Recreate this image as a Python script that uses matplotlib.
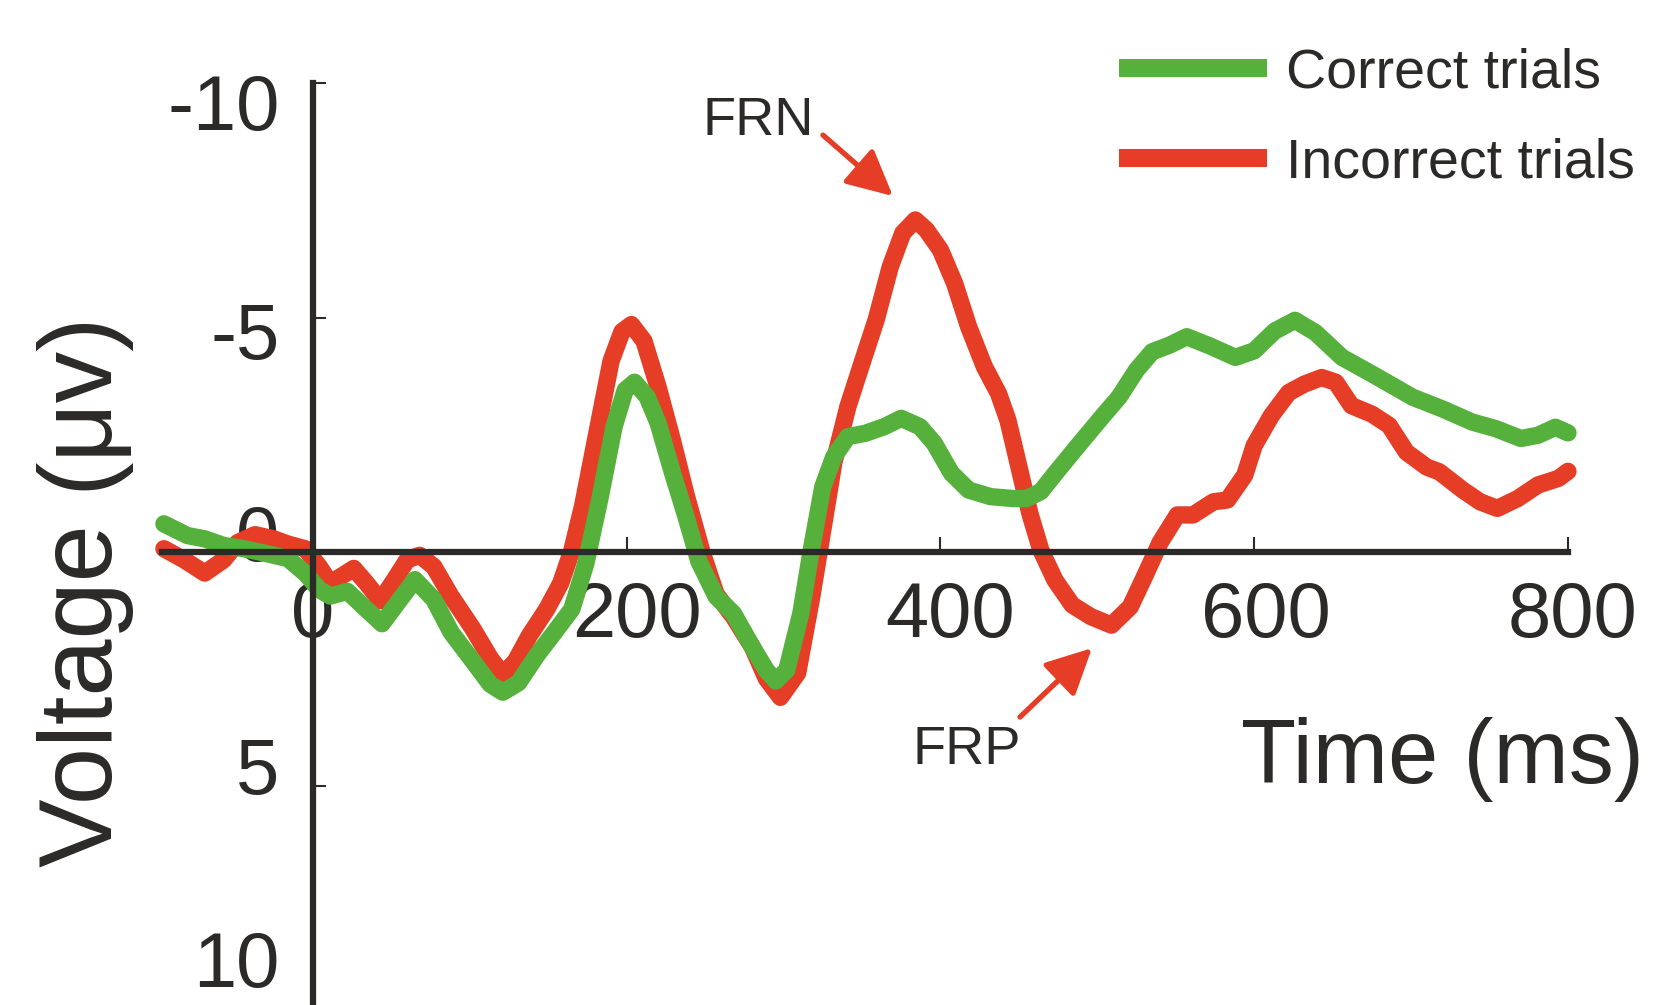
import matplotlib
matplotlib.use("Agg")
import matplotlib.pyplot as plt
from matplotlib.transforms import ScaledTranslation

# ERP waveforms (time in ms, voltage in uV, negative up)
time_incorrect = [-95, -82, -69, -57, -48, -37, -25, -16, -5, 4, 11, 18, 26, 34, 43, 52, 60, 68, 77, 88,
                  102, 113, 121, 129, 138, 149, 158, 165, 172, 181, 190, 197, 203, 211, 220, 229, 238, 248,
                  257, 268, 280, 289, 298, 309, 318, 325, 332, 341, 350, 359, 368, 376, 384, 391, 400, 409,
                  418, 428, 437, 443, 450, 457, 464, 473, 484, 496, 509, 521, 530, 540, 551, 561, 574, 583,
                  594, 600, 611, 622, 632, 643, 652, 662, 675, 686, 697, 710, 718, 733, 744, 755, 768, 781,
                  794, 800]
volt_incorrect = [-0.07, 0.17, 0.45, 0.17, -0.2, -0.37, -0.28, -0.17, -0.07, 0.31, 0.66, 0.52, 0.35, 0.66,
                  1.04, 0.59, 0.17, 0.07, 0.31, 0.94, 1.64, 2.26, 2.61, 2.33, 1.78, 1.22, 0.66, -0.03, -1.0,
                  -2.54, -4.07, -4.7, -4.85, -4.5, -3.52, -2.4, -1.2, 0.0, 0.9, 1.38, 2.02, 2.7, 3.1, 2.58,
                  0.95, -0.47, -1.9, -3.1, -4.03, -4.95, -6.08, -6.8, -7.08, -6.87, -6.44, -5.73, -4.8, -3.95,
                  -3.38, -2.81, -1.82, -0.82, -0.04, 0.6, 1.13, 1.38, 1.56, 1.17, 0.53, -0.2, -0.79, -0.79,
                  -1.07, -1.11, -1.64, -2.27, -2.91, -3.4, -3.58, -3.72, -3.62, -3.12, -2.94, -2.7, -2.13,
                  -1.81, -1.71, -1.32, -1.07, -0.93, -1.14, -1.43, -1.57, -1.72]

time_correct = [-95, -80, -69, -57, -44, -30, -16, -5, 4, 11, 22, 34, 44, 54, 65, 77, 88, 102, 113, 121,
                131, 143, 154, 165, 174, 183, 192, 199, 205, 213, 220, 229, 238, 246, 257, 268, 280, 289,
                295, 302, 311, 318, 325, 332, 341, 352, 364, 375, 387, 396, 407, 418, 432, 446, 455, 464,
                475, 489, 503, 514, 525, 535, 546, 557, 572, 588, 600, 613, 626, 639, 656, 677, 701, 720,
                739, 754, 770, 781, 792, 800]
volt_correct = [-0.6, -0.35, -0.28, -0.14, -0.07, 0.03, 0.14, 0.45, 0.8, 0.94, 0.84, 1.22, 1.53, 1.08, 0.59,
                1.01, 1.71, 2.33, 2.82, 2.99, 2.79, 2.19, 1.71, 1.22, 0.24, -1.15, -2.68, -3.45, -3.62, -3.31,
                -2.75, -1.71, -0.73, 0.2, 0.95, 1.31, 2.02, 2.52, 2.75, 2.52, 1.31, -0.11, -1.39, -2.03, -2.46,
                -2.53, -2.67, -2.85, -2.67, -2.32, -1.68, -1.32, -1.18, -1.14, -1.14, -1.29, -1.75, -2.32,
                -2.88, -3.31, -3.88, -4.27, -4.41, -4.59, -4.39, -4.15, -4.29, -4.71, -4.94, -4.68, -4.15,
                -3.76, -3.3, -3.05, -2.77, -2.63, -2.42, -2.49, -2.66, -2.54]

x_ticks = [0, 200, 400, 600, 800]
y_ticks = [-10, -5, 0, 5, 10]
series_labels = ["Correct trials", "Incorrect trials"]

GREEN = "#55b03c"
RED = "#e53d26"
DARK = "#2b2a29"

plt.rcParams["font.family"] = ["Liberation Sans", "DejaVu Sans"]
plt.rcParams["axes.unicode_minus"] = False

fig = plt.figure(figsize=(16.55, 10.05), dpi=100)
ax = fig.add_axes([0.0981, -0.0159, 0.8493, 0.9333])

line_i, = ax.plot(time_incorrect, volt_incorrect, color=RED, lw=12.5, solid_capstyle="round",
                  solid_joinstyle="round", clip_on=False, zorder=2)
line_c, = ax.plot(time_correct, volt_correct, color=GREEN, lw=12.5, solid_capstyle="round",
                  solid_joinstyle="round", clip_on=False, zorder=2.1)

ax.set_xlim(-96, 800)
ax.set_ylim(10, -10)

for side in ["top", "right"]:
    ax.spines[side].set_visible(False)
for side in ["left", "bottom"]:
    ax.spines[side].set_position(("data", 0))
    ax.spines[side].set_linewidth(4.5)
    ax.spines[side].set_color(DARK)

ax.set_xticks(x_ticks)
ax.set_yticks(y_ticks)
ax.tick_params(axis="x", direction="in", length=11, width=1.5, pad=20, labelsize=56,
               color=DARK, labelcolor=DARK)
ax.tick_params(axis="y", direction="in", length=9, width=1.5, pad=24, labelsize=56,
               color=DARK, labelcolor=DARK)

# the original figure has slightly shifted tick labels
for lab, dx in zip(ax.get_xticklabels(), [0, 10, 10, 12, 5]):
    lab.set_transform(lab.get_transform() + ScaledTranslation(dx / 100, 0, fig.dpi_scale_trans))
for lab, dy in zip(ax.get_yticklabels(), [18, 13, -19, -21, -62]):
    lab.set_transform(lab.get_transform() + ScaledTranslation(0, -dy / 100, fig.dpi_scale_trans))

ax.set_xlabel("Time (ms)", fontsize=65, color=DARK, ha="center", va="baseline")
ax.xaxis.set_label_coords(0.911, 0.2537)
ax.set_ylabel("Voltage (μv)", fontsize=74, color=DARK)
ax.yaxis.label.set_rotation_mode("anchor")
ax.yaxis.label.set_ha("center")
ax.yaxis.label.set_va("baseline")
ax.yaxis.set_label_coords(-0.0356, 0.458)

# annotations
arrow_kw = dict(arrowstyle="-|>,head_length=2.8,head_width=1.4", color=RED, lw=3.8,
                mutation_scale=10, shrinkA=0, shrinkB=0)
ax.text(283.7, -8.9, "FRN", fontsize=39, color=DARK, ha="center", va="baseline")
ax.annotate("", xy=(369.7, -7.59), xytext=(325.1, -8.89), arrowprops=arrow_kw)
ax.text(416.9, 4.52, "FRP", fontsize=39, color=DARK, ha="center", va="baseline")
ax.annotate("", xy=(496.6, 2.05), xytext=(450.7, 3.52), arrowprops=arrow_kw)

leg = ax.legend([line_c, line_i], series_labels, loc="upper left", bbox_to_anchor=(0.6764, 0.953),
                bbox_transform=fig.transFigure, frameon=False, borderpad=0, borderaxespad=0,
                handlelength=2.65, handletextpad=0.35, labelspacing=0.68,
                prop={"family": "Liberation Sans", "size": 40})
for t in leg.get_texts():
    t.set_color(DARK)
for h in leg.get_lines():
    h.set_solid_capstyle("butt")
    h.set_linewidth(13)

fig.savefig("out.png", dpi=100)
